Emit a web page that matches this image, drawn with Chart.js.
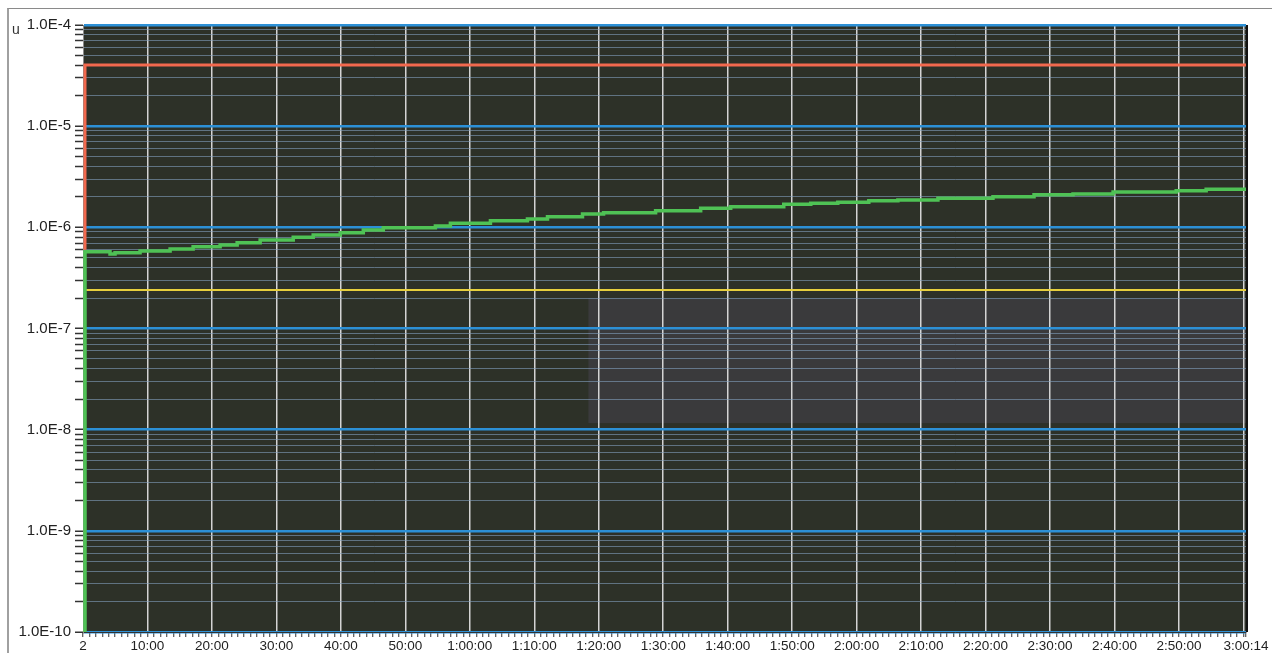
<!DOCTYPE html>
<html>
<head>
<meta charset="utf-8">
<script src="https://cdn.jsdelivr.net/npm/chart.js"></script>
<style>
  html, body { margin: 0; padding: 0; background: #fff; }
  #frame { position: absolute; left: 7px; top: 8px; width: 1265px; height: 645px;
           border-top: 1px solid #8a8a8a; border-left: 2px solid #a0a0a0; }
  #wrap { position: absolute; left: 0; top: 0; width: 1272px; height: 653px; }
</style>
</head>
<body>
<div id="frame"></div>
<div id="wrap"><canvas id="myChart" width="1272" height="653"></canvas></div>
<script>
    // time in minutes from start
    const greenTimes = [0.31, 0.31, 4.19, 4.97, 8.85, 13.51, 17.08, 21.27, 23.91, 27.48, 32.61, 35.71, 39.91,
        43.48, 46.58, 54.66, 56.99, 63.2, 68.94, 72.05, 77.48, 80.75, 88.82, 95.81, 100.47, 108.7,
        112.89, 117.08, 121.89, 126.4, 132.61, 141.15, 147.52, 153.57, 159.78, 169.57, 174.22, 180.4];
    const greenValues = [1e-10, 5.74e-7, 5.45e-7, 5.61e-7, 5.83e-7, 6.11e-7, 6.44e-7, 6.69e-7, 7.05e-7, 7.50e-7,
        7.97e-7, 8.40e-7, 8.85e-7, 9.41e-7, 9.92e-7, 1.031e-6, 1.096e-6, 1.163e-6, 1.209e-6, 1.274e-6,
        1.354e-6, 1.395e-6, 1.460e-6, 1.542e-6, 1.600e-6, 1.689e-6, 1.728e-6, 1.768e-6, 1.834e-6,
        1.863e-6, 1.936e-6, 2.008e-6, 2.102e-6, 2.136e-6, 2.235e-6, 2.302e-6, 2.377e-6, 2.377e-6];

    const redTimes = [0.31, 0.31, 180.4];
    const redValues = [6.0e-7, 4.03e-5, 4.03e-5];

    const yellowTimes = [0.4, 180.4];
    const yellowValues = [2.40e-7, 2.40e-7];

    // darker patch of the scan (time range, value range)
    const shadeTimes = [78.4, 180.4];
    const shadeValues = [2.0e-7, 1.16e-8];

    const yDecades = [-10, -9, -8, -7, -6, -5, -4];
    const yDecadeLabels = ['1.0E-10', '1.0E-9', '1.0E-8', '1.0E-7', '1.0E-6', '1.0E-5', '1.0E-4'];

    const xLabelMinutes = [0, 10, 20, 30, 40, 50, 60, 70, 80, 90, 100, 110, 120, 130, 140, 150, 160, 170];
    const xLabels = ['2', '10:00', '20:00', '30:00', '40:00', '50:00', '1:00:00', '1:10:00', '1:20:00',
        '1:30:00', '1:40:00', '1:50:00', '2:00:00', '2:10:00', '2:20:00', '2:30:00', '2:40:00', '2:50:00'];
    const xEnd = 180.4;
    const xEndLabel = '3:00:14';

    const pts = (xs, ys) => xs.map((x, i) => ({ x: x, y: ys[i] }));

    const plotBg = {
        id: 'plotBg',
        beforeDraw(chart) {
            const { ctx, chartArea: a, scales } = chart;
            ctx.save();
            ctx.fillStyle = '#2d3128';
            ctx.fillRect(a.left, a.top, a.width, a.height);
            const x0 = scales.x.getPixelForValue(shadeTimes[0]);
            const x1 = scales.x.getPixelForValue(shadeTimes[1]);
            const y0 = scales.y.getPixelForValue(shadeValues[0]);
            const y1 = scales.y.getPixelForValue(shadeValues[1]);
            ctx.fillStyle = '#3a3a3c';
            ctx.fillRect(x0, y0, x1 - x0, y1 - y0);
            ctx.restore();
        },
        afterDraw(chart) {
            const { ctx, chartArea: a } = chart;
            ctx.save();
            ctx.strokeStyle = '#111';
            ctx.lineWidth = 2;
            ctx.beginPath();
            ctx.moveTo(a.right + 1, a.top);
            ctx.lineTo(a.right + 1, a.bottom);
            ctx.stroke();
            ctx.fillStyle = '#333';
            ctx.font = '14px "Liberation Sans", Arial, sans-serif';
            ctx.fillText('u', 12, 34);
            ctx.restore();
        }
    };

    const ctx = document.getElementById('myChart').getContext('2d');
    new Chart(ctx, {
        type: 'line',
        data: {
            datasets: [
                {
                    label: 'green',
                    data: pts(greenTimes, greenValues),
                    borderColor: '#4fc255',
                    borderWidth: 3.5,
                    stepped: true,
                    pointRadius: 0,
                    fill: false
                },
                {
                    label: 'red',
                    data: pts(redTimes, redValues),
                    borderColor: '#f2694e',
                    borderWidth: 3,
                    pointRadius: 0,
                    fill: false
                },
                {
                    label: 'yellow',
                    data: pts(yellowTimes, yellowValues),
                    borderColor: '#e6cf3e',
                    borderWidth: 2,
                    pointRadius: 0,
                    fill: false
                }
            ]
        },
        options: {
            responsive: false,
            animation: false,
            layout: { padding: { left: 0, top: 25, right: 26, bottom: 0 } },
            plugins: { legend: { display: false }, tooltip: { enabled: false } },
            scales: {
                x: {
                    type: 'linear',
                    min: 0,
                    max: xEnd,
                    afterBuildTicks: scale => {
                        const t = [];
                        for (let m = 0; m <= 180; m++) t.push({ value: m });
                        t.push({ value: xEnd });
                        scale.ticks = t;
                    },
                    afterFit: scale => { scale.height = 21; },
                    ticks: {
                        autoSkip: false,
                        maxRotation: 0,
                        padding: 1,
                        color: '#222',
                        font: { family: '"Liberation Sans", Arial, sans-serif', size: 13.5 },
                        callback: value => {
                            if (value === xEnd) return xEndLabel;
                            const i = xLabelMinutes.indexOf(value);
                            return i >= 0 ? xLabels[i] : '';
                        }
                    },
                    grid: {
                        color: c => (c.tick && c.tick.value % 10 === 0 && c.tick.value > 0) ? '#d4d4d4' : 'rgba(0,0,0,0)',
                        lineWidth: 1.5,
                        tickLength: 5,
                        tickWidth: 1,
                        tickColor: '#333'
                    },
                    border: { color: '#333', width: 1 }
                },
                y: {
                    type: 'logarithmic',
                    min: 1e-10,
                    max: 1e-4,
                    afterBuildTicks: scale => {
                        const t = [];
                        yDecades.forEach((d, i) => {
                            if (i === yDecades.length - 1) {
                                t.push({ value: Math.pow(10, d), major: true, label: yDecadeLabels[i] });
                                return;
                            }
                            for (let s = 1; s <= 9; s++) {
                                t.push({ value: s * Math.pow(10, d), major: s === 1, label: s === 1 ? yDecadeLabels[i] : '' });
                            }
                        });
                        scale.ticks = t;
                    },
                    afterFit: scale => { scale.width = 83; },
                    ticks: {
                        autoSkip: false,
                        padding: 4,
                        color: '#222',
                        font: { family: '"Liberation Sans", Arial, sans-serif', size: 15 },
                        callback: (value, index, ticks) => ticks[index].label
                    },
                    grid: {
                        color: c => (c.tick && c.tick.major) ? '#2c90d6' : 'rgba(130,160,190,0.6)',
                        lineWidth: c => (c.tick && c.tick.major) ? 2.5 : 1,
                        tickLength: 8,
                        tickWidth: 1.5,
                        tickColor: '#333'
                    },
                    border: { color: '#8a8a8a', width: 1 }
                }
            }
        },
        plugins: [plotBg]
    });
</script>
</body>
</html>
